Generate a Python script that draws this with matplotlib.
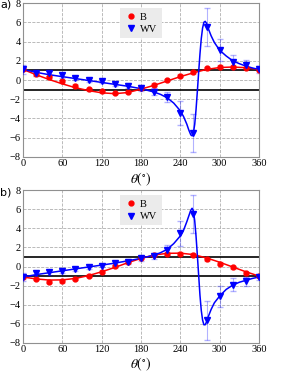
import numpy as np
import matplotlib
matplotlib.use("Agg")
import matplotlib.pyplot as plt

plt.rcParams['font.family'] = ['Liberation Serif', 'DejaVu Serif']
plt.rcParams['mathtext.fontset'] = 'stix'

# measured points
theta = np.arange(0, 361, 20)

# panel a
B_a = [1.1, 0.6, 0.3, -0.15, -0.6, -0.95, -1.15, -1.35, -1.2, -0.8,
       -0.48, 0.0, 0.45, 0.8, 1.2, 1.4, 1.37, 1.25, 1.05]
WV_a = [1.1, 0.7, 0.7, 0.5, 0.2, 0.0, -0.1, -0.4, -0.6, -0.8,
        -1.2, -1.75, -3.4, -5.5, 5.5, 3.1, 1.9, 1.6, 1.1]
WV_a_err = [0.45, 0.25, 0.25, 0.25, 0.2, 0.2, 0.2, 0.2, 0.25, 0.3,
            0.35, 0.5, 1.25, 2.0, 2.0, 1.15, 0.75, 0.5, 0.35]

# panel b
B_b = [-1.13, -1.26, -1.6, -1.55, -1.26, -0.95, -0.55, 0.03, 0.5, 0.9,
       1.2, 1.33, 1.33, 1.23, 0.75, 0.3, -0.07, -0.7, -1.0]
WV_b = [-1.1, -0.7, -0.6, -0.45, -0.25, -0.07, 0.1, 0.35, 0.5, 0.85,
        1.1, 1.7, 3.5, 5.5, -5.65, -3.1, -1.9, -1.55, -1.1]
WV_b_err = [0.45, 0.25, 0.25, 0.25, 0.2, 0.2, 0.2, 0.2, 0.25, 0.3,
            0.35, 0.6, 1.3, 2.0, 2.0, 1.1, 0.65, 0.5, 0.35]

B_err = [0.15] * len(theta)

# fit curves
theta_fitB = np.arange(0, 361, 20)
fitB_a = [1.1, 0.55, 0.05, -0.4, -0.8, -1.1, -1.33, -1.42, -1.3, -0.95,
          -0.55, -0.1, 0.35, 0.75, 1.1, 1.3, 1.35, 1.28, 1.1]
fitB_b = [-1.1, -1.3, -1.42, -1.4, -1.25, -0.95, -0.55, -0.1, 0.4, 0.85,
          1.2, 1.38, 1.4, 1.25, 0.9, 0.45, -0.05, -0.55, -1.0]

theta_fitW = [0, 20, 40, 60, 80, 100, 120, 140, 160, 180, 200, 210, 220,
              230, 240, 245, 250, 253, 256, 258, 260, 262, 264, 266, 268,
              270, 272, 274, 276, 278, 280, 283, 287, 292, 300, 310, 320,
              330, 340, 350, 360]
fitW_a = [1.1, 0.8, 0.55, 0.35, 0.15, -0.05, -0.25, -0.45, -0.65, -0.9,
          -1.25, -1.5, -1.85, -2.4, -3.2, -3.8, -4.6, -5.2, -5.7, -5.8,
          -5.5, -4.6, -3.1, -1.2, 0.8, 2.7, 4.3, 5.4, 6.0, 6.1, 5.9,
          5.3, 4.6, 3.9, 3.1, 2.5, 2.0, 1.7, 1.45, 1.25, 1.1]
fitW_b = [-1.1, -0.85, -0.65, -0.45, -0.25, -0.05, 0.15, 0.35, 0.6, 0.85,
          1.2, 1.45, 1.8, 2.4, 3.2, 3.8, 4.7, 5.3, 5.9, 6.1,
          5.8, 4.8, 3.2, 1.2, -0.9, -3.0, -4.6, -5.6, -6.1, -6.1, -5.8,
          -5.2, -4.5, -3.8, -3.1, -2.4, -1.95, -1.65, -1.45, -1.25, -1.1]

fig = plt.figure(figsize=(2.99, 3.81), dpi=100)
ax_a = fig.add_axes([0.077, 0.588, 0.789, 0.404])
ax_b = fig.add_axes([0.077, 0.100, 0.789, 0.401])

panels = [(ax_a, B_a, WV_a, WV_a_err, fitB_a, fitW_a, 'a)'),
          (ax_b, B_b, WV_b, WV_b_err, fitB_b, fitW_b, 'b)')]

for ax, B, WV, WVerr, fB, fW, lab in panels:
    ax.axhline(1, color='black', lw=1.2, zorder=2)
    ax.axhline(-1, color='black', lw=1.2, zorder=2)
    ax.plot(theta_fitB, fB, color='red', lw=1.1, zorder=3)
    ax.plot(theta_fitW, fW, color='blue', lw=1.1, zorder=4)
    ax.errorbar(theta, B, yerr=B_err, fmt='none', ecolor='red', alpha=0.3,
                elinewidth=0.8, capsize=2, zorder=3)
    ax.errorbar(theta, WV, yerr=WVerr, fmt='none', ecolor='blue', alpha=0.3,
                elinewidth=0.8, capsize=2, zorder=4)
    ax.plot(theta, B, 'o', color='red', ms=3.5, mec='red', label='B', zorder=5)
    ax.plot(theta, WV, 'v', color='blue', ms=4, mec='blue', label='WV', zorder=6)
    ax.set_xlim(0, 360)
    ax.set_ylim(-8, 8)
    ax.set_xticks(range(0, 361, 60))
    ax.set_yticks(range(-8, 9, 2))
    ax.grid(True, ls='--', color='#b0b0b0', lw=0.6)
    ax.tick_params(labelsize=7.5, direction='in', length=0, pad=1.5)
    for s in ax.spines.values():
        s.set_color('#909090')
    ax.set_xlabel(r'$\theta(^{\circ})$', fontsize=10, labelpad=1.5)
    leg = ax.legend(loc='upper center', fontsize=7.5, frameon=True,
                    fancybox=False, handletextpad=0.3, borderpad=0.4,
                    labelspacing=0.3, handlelength=1.2)
    leg.get_frame().set_facecolor('#ebebeb')
    leg.get_frame().set_edgecolor('none')
    leg.get_frame().set_alpha(1)
    pos = ax.get_position()
    fig.text(0.0, pos.y1 - 0.005, lab, fontsize=8, va='center', ha='left',
             family='DejaVu Sans')

fig.savefig('out.png', dpi=100)
